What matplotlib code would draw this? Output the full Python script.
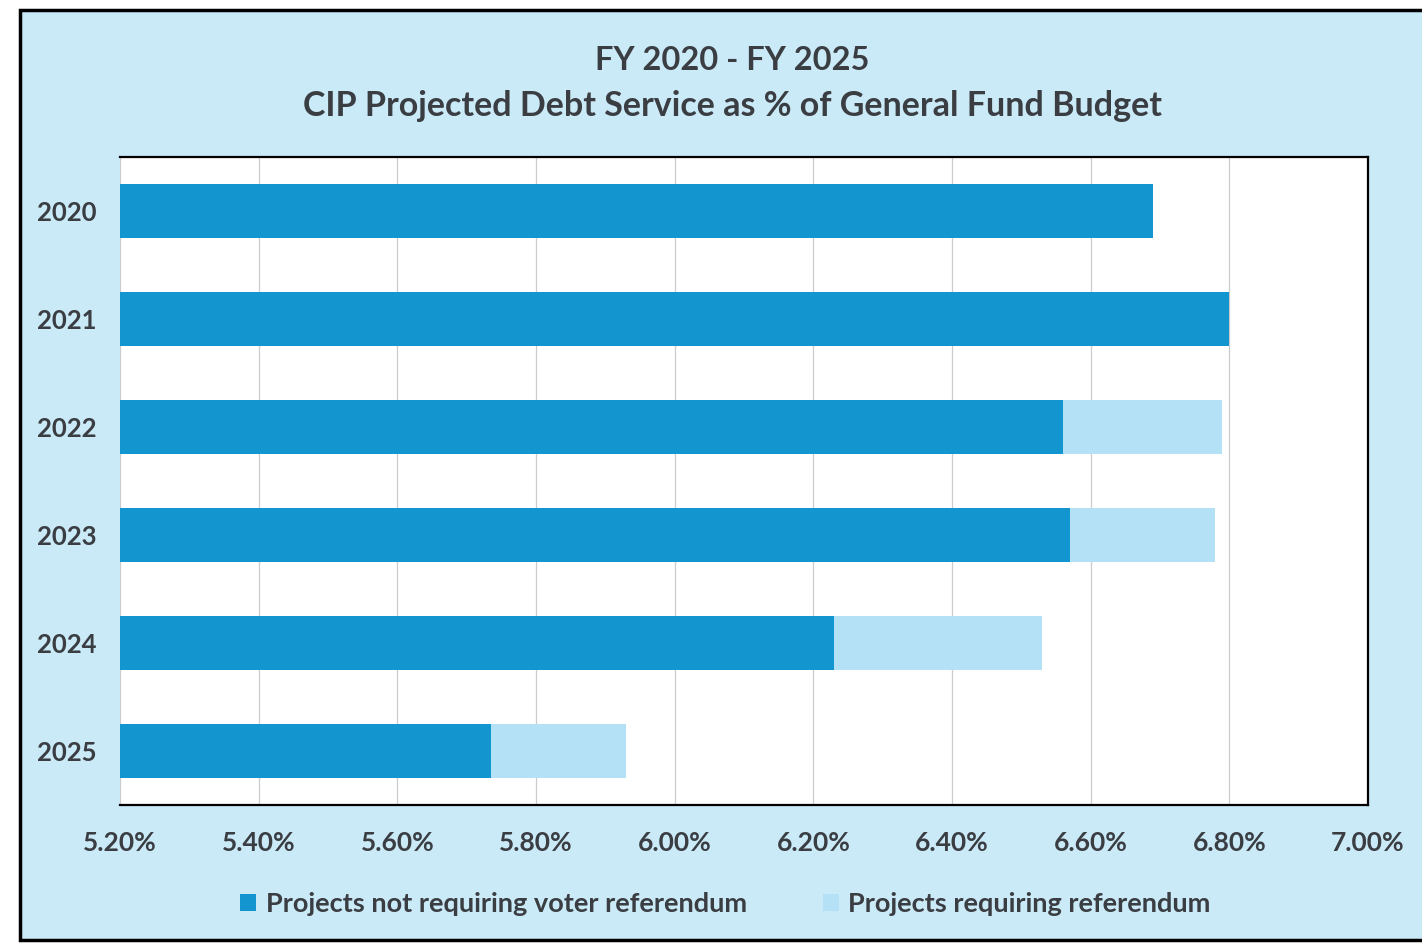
import matplotlib.pyplot as plt
from matplotlib.patches import Rectangle
from matplotlib.ticker import FuncFormatter

plt.rcParams['font.family'] = ['Lato', 'DejaVu Sans']
plt.rcParams['font.weight'] = 'bold'

years = ['2020', '2021', '2022', '2023', '2024', '2025']
no_referendum = [6.69, 6.80, 6.56, 6.57, 6.23, 5.735]
referendum = [0.00, 0.00, 0.23, 0.21, 0.30, 0.195]
x_ticks = [5.2, 5.4, 5.6, 5.8, 6.0, 6.2, 6.4, 6.6, 6.8, 7.0]

dark = '#1396cf'
light = '#b5e1f6'
panel = '#cbeaf8'
text_col = '#3a3d42'
base = 5.2

fig = plt.figure(figsize=(14.22, 9.44), dpi=100)
fig.patch.set_facecolor('white')

# light blue chart panel with a black frame, kept behind the axes
frame = Rectangle((20 / 1422, 4 / 944), 1.1, 930 / 944,
                  transform=fig.transFigure, facecolor=panel,
                  edgecolor='black', linewidth=2.5, zorder=-5)
fig.add_artist(frame)

ax = fig.add_axes([120 / 1422, 1 - 805 / 944, 1248 / 1422, 648 / 944])
ax.set_facecolor('white')

pos = range(len(years))
widths = [v - base for v in no_referendum]
ax.barh(pos, widths, left=base, height=0.5, color=dark, zorder=2,
        label='Projects not requiring voter referendum')
ax.barh(pos, referendum, left=no_referendum, height=0.5, color=light, zorder=2,
        label='Projects requiring referendum')

ax.set_xlim(5.2, 7.0)
ax.set_ylim(5.5, -0.5)
ax.set_xticks(x_ticks)
ax.xaxis.set_major_formatter(FuncFormatter(lambda v, p: f'{v:.2f}%'))
ax.set_yticks(list(pos))
ax.set_yticklabels(years)
ax.grid(axis='x', color='#cccccc', linewidth=0.9, zorder=1)
ax.tick_params(length=0, colors=text_col)
ax.tick_params(axis='x', labelsize=19, pad=19)
ax.tick_params(axis='y', labelsize=18.5, pad=17)

for side in ['top', 'right', 'bottom']:
    ax.spines[side].set_color('black')
    ax.spines[side].set_linewidth(1.6)
ax.spines['left'].set_visible(False)

fig.text(0.515, 1 - 60 / 944, 'FY 2020 - FY 2025', ha='center', va='center',
         fontsize=23.5, color=text_col)
fig.text(0.515, 1 - 106 / 944, 'CIP Projected Debt Service as % of General Fund Budget',
         ha='center', va='center', fontsize=24.5, color=text_col)

fig.legend(loc='center', bbox_to_anchor=(0.51, 1 - 904 / 944), ncol=2,
           frameon=False, fontsize=19.5, handlelength=0.6, handleheight=0.6,
           handletextpad=0.35, columnspacing=2.8, labelcolor=text_col)

fig.savefig('out.png', dpi=100, facecolor=fig.get_facecolor())
